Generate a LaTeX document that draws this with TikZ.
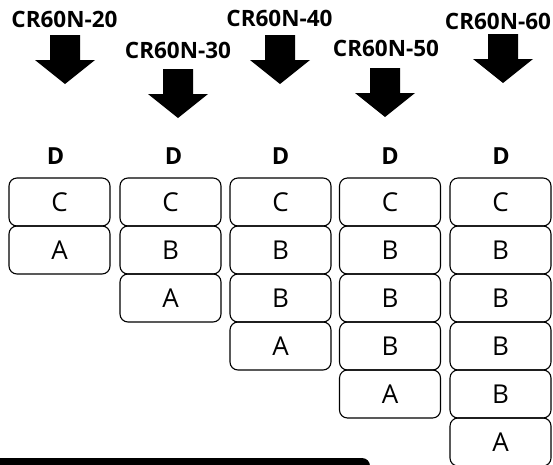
\documentclass[tikz,border=0pt]{standalone}
\usepackage{fontspec}
\setmainfont{Open Sans}
\usetikzlibrary{positioning}
\tikzset{
  layer/.style={draw, rounded corners=8pt, line width=1.1pt, minimum width=101pt,
    minimum height=48pt, inner sep=0pt, font=\fontsize{26}{26}\selectfont},
  model/.style={inner sep=0pt, font=\fontsize{22.5}{22.5}\selectfont\bfseries},
  topname/.style={inner sep=0pt, font=\fontsize{23.5}{23.5}\selectfont\bfseries},
  downarrow/.pic={\fill (-15,0) -- (15,0) -- (15,25) -- (30,25) -- (0,49) -- (-30,25) -- (-15,25) -- cycle;}
}
\begin{document}
\begin{tikzpicture}[x=1pt, y=-1pt]
  \useasboundingbox (0,0) rectangle (553,464);
  \clip (0,0) rectangle (553,464);
  % model names and arrows
  \node[model] (m20) at (64.5,19.5) {CR60N-20};
  \node[model] (m30) at (178,50.5) {CR60N-30};
  \node[model] (m40) at (279.5,18) {CR60N-40};
  \node[model] (m50) at (386,48) {CR60N-50};
  \node[model] (m60) at (498,21.5) {CR60N-60};
  \pic at (65,35) {downarrow};
  \pic at (178,69) {downarrow};
  \pic at (280,35) {downarrow};
  \pic at (385,68) {downarrow};
  \pic at (503,34) {downarrow};
  % top labels
  \node[topname] (d1) at (55.5,156) {D};
  \node[topname] (d2) at (173.5,156) {D};
  \node[topname] (d3) at (280.5,156) {D};
  \node[topname] (d4) at (390,156) {D};
  \node[topname] (d5) at (501,156) {D};
  % CR60N-20
  \node[layer] (c1) at (59.5,202) {C};
  \node[layer] (a1) at (59.5,250) {A};
  % CR60N-30
  \node[layer] (c2) at (170.5,202) {C};
  \node[layer] (b2a) at (170.5,250) {B};
  \node[layer] (a2) at (170.5,298) {A};
  % CR60N-40
  \node[layer] (c3) at (280.5,202) {C};
  \node[layer] (b3a) at (280.5,250) {B};
  \node[layer] (b3b) at (280.5,298) {B};
  \node[layer] (a3) at (280.5,346) {A};
  % CR60N-50
  \node[layer] (c4) at (390,202) {C};
  \node[layer] (b4a) at (390,250) {B};
  \node[layer] (b4b) at (390,298) {B};
  \node[layer] (b4c) at (390,346) {B};
  \node[layer] (a4) at (390,394) {A};
  % CR60N-60
  \node[layer] (c5) at (500.5,202) {C};
  \node[layer] (b5a) at (500.5,250) {B};
  \node[layer] (b5b) at (500.5,298) {B};
  \node[layer] (b5c) at (500.5,346) {B};
  \node[layer] (b5d) at (500.5,394) {B};
  \node[layer] (a5) at (500.5,442) {A};
  % bottom bar
  \fill[rounded corners=8pt] (-20,458) -- (370,458) -- (370,490) -- (-20,490) -- cycle;
\end{tikzpicture}
\end{document}
